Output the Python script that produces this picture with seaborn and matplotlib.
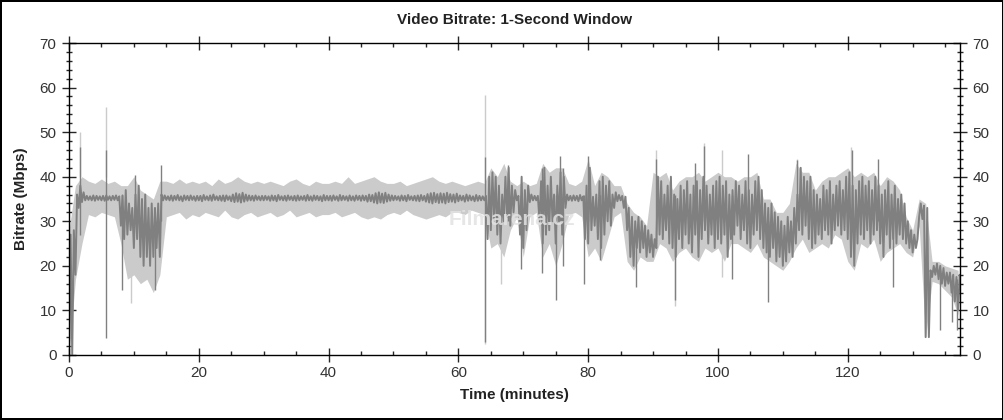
import numpy as np
import pandas as pd
import matplotlib.pyplot as plt
from matplotlib.ticker import MultipleLocator
import seaborn as sns

# dark trace (1-second bitrate), min / max per half minute, 0 .. 137 min
dark_lo = [0, 0, 18, 33, 34.3, 34.7, 34.8, 34.7, 34.6, 34.8,
           34.7, 34.6, 34.8, 34.7, 34.8, 34.7, 29, 26, 27, 28,
           24, 26, 22, 20, 22, 20, 22, 24, 22, 34.7,
           34.8, 34.7, 34.6, 34.8, 34.7, 34.5, 34.8, 34.7, 34.8, 34.6,
           34.7, 34.5, 34.8, 34.7, 34.6, 34.8, 34.7, 34.6, 34.5, 34.8,
           34.5, 34.3, 34.4, 34.2, 34.4, 34.6, 34.7, 34.6, 34.8, 34.7,
           34.7, 34.8, 34.6, 34.7, 34.5, 34.8, 34.7, 34.6, 34.8, 34.7,
           34.6, 34.7, 34.8, 34.6, 34.7, 34.6, 34.8, 34.7, 34.5, 34.7,
           34.7, 34.6, 34.8, 34.6, 34.7, 34.8, 34.6, 34.7, 34.6, 34.8,
           34.6, 34.7, 34.4, 34.5, 34.2, 34.0, 34.2, 34.1, 34.4, 34.6,
           34.7, 34.8, 34.6, 34.7, 34.5, 34.8, 34.7, 34.6, 34.5, 34.7,
           34.4, 34.2, 34.0, 34.3, 34.1, 34.2, 34.0, 34.3, 34.4, 34.2,
           34.5, 34.7, 34.4, 34.6, 34.7, 34.5, 34.6, 34.7, 34.7, 26,
           28, 30, 27, 25, 30, 31, 29, 32, 34.7, 27,
           24, 28, 34.3, 34.7, 34.7, 30, 25, 27, 28, 30,
           25, 30, 27, 33, 34.7, 34.6, 34.7, 34.5, 34.7, 26,
           25, 28, 29, 26, 24, 27, 30, 29, 33, 34.5,
           34.7, 33, 28, 22, 20, 24, 23, 24, 22, 23,
           22, 24, 27, 26, 28, 25, 24, 22, 26, 24,
           27, 25, 23, 27, 22, 26, 28, 25, 27, 24,
           26, 25, 27, 22, 26, 27, 29, 26, 28, 25,
           24, 27, 28, 26, 24, 23, 22, 24, 21, 22,
           20, 21, 23, 22, 25, 28, 27, 29, 26, 24,
           25, 27, 26, 28, 27, 25, 28, 29, 27, 28,
           26, 22, 20, 25, 27, 26, 28, 25, 27, 28,
           25, 22, 27, 24, 26, 25, 27, 26, 25, 24,
           23, 24, 31, 30.5, 4, 4, 17.5, 18, 17, 16,
           15.5, 16, 14, 12, 10]
dark_hi = [27, 28, 36, 38, 36.5, 35.7, 35.6, 35.8, 35.7, 35.6,
           35.7, 35.8, 35.6, 35.7, 35.8, 35.6, 35.8, 37, 34, 33,
           36, 38, 35, 36, 33, 34, 33, 34, 36, 35.8,
           35.6, 35.8, 35.7, 35.9, 35.6, 35.8, 35.7, 35.8, 35.6, 35.7,
           35.7, 35.9, 35.6, 35.8, 36.0, 35.6, 35.7, 35.8, 35.8, 35.6,
           36.0, 36.3, 36.1, 36.4, 36.0, 35.8, 35.7, 35.8, 35.6, 35.7,
           35.7, 35.6, 35.8, 35.7, 35.9, 35.6, 35.7, 35.8, 35.6, 35.7,
           35.8, 35.6, 35.7, 35.9, 35.6, 35.8, 35.7, 35.6, 35.9, 35.7,
           35.7, 35.8, 35.6, 35.9, 35.7, 35.6, 35.8, 35.6, 35.8, 35.7,
           35.8, 35.7, 36.0, 35.9, 36.3, 36.5, 36.2, 36.4, 36.0, 35.8,
           35.7, 35.6, 35.8, 35.7, 35.9, 35.6, 35.7, 35.8, 35.9, 35.7,
           36.1, 36.3, 36.4, 36.1, 36.3, 36.2, 36.4, 36.1, 36.0, 36.2,
           35.8, 35.7, 36.0, 35.8, 35.6, 35.9, 35.7, 35.6, 35.7, 40,
           41, 40, 38, 36, 40, 42, 38, 37, 35.7, 40,
           37, 38, 36, 35.7, 35.7, 39, 42, 38, 40, 36,
           38, 41, 40, 36, 35.7, 35.8, 35.7, 35.9, 35.6, 38,
           42, 35.5, 36, 39, 40, 38, 39, 36, 36.5, 35.9,
           35.7, 35.5, 33, 31, 30, 31, 30, 29, 28, 27,
           26, 40, 39, 36, 38, 40, 36, 35, 38, 37,
           39, 36, 38, 39, 37, 40, 38, 36, 38, 39,
           40, 38, 39, 36, 37, 39, 38, 36, 39, 37,
           36, 39, 40, 37, 34, 33, 34, 32, 31, 30,
           29, 31, 30, 33, 36, 42, 40, 39, 40, 37,
           36, 35, 38, 37, 39, 36, 38, 39, 37, 40,
           41, 38, 37, 39, 40, 38, 39, 37, 40, 38,
           36, 37, 39, 36, 38, 35, 36, 34, 30, 28,
           27, 26, 34, 33.5, 33, 19, 20, 20.5, 20, 19.5,
           18.5, 18.5, 18, 17.5, 18]

# light trace (envelope), min / max per minute, 0 .. 137 min
light_lo = [0, 17, 25, 31.5, 31, 32, 31.5, 31, 25, 17,
            18, 16, 17, 14, 18, 31, 31.5, 32, 30.5, 31.5,
            31, 32, 31.5, 31, 32.5, 31, 30.5, 31.5, 32, 31,
            31.5, 32, 31, 31.5, 32.5, 31, 31.5, 32, 31, 31.5,
            31.5, 32, 31, 31.5, 32, 31, 30.5, 31, 30.5, 31.5,
            32, 31.5, 32.5, 31.5, 31, 30.5, 31, 31.5, 31, 32,
            32, 31.5, 32.5, 32, 31.5, 24, 25, 22, 28, 31,
            22, 31, 32, 22, 25, 20, 25, 31.5, 32, 31,
            22, 24, 21, 26, 31, 32, 21, 19, 22, 21,
            21, 25, 24, 21, 23, 24, 22, 21, 24, 23,
            24, 21, 25, 25, 24, 23, 25, 22, 21, 20,
            19, 21, 24, 26, 23, 24, 25, 24, 27, 26,
            21, 19, 25, 24, 26, 21, 23, 24, 25, 23,
            22, 29, 4, 16.5, 16, 14.5, 13, 9]
light_hi = [28, 38, 40, 39, 38.5, 39.5, 38.5, 39, 38, 38,
            40, 37, 36, 35, 39, 39, 38.5, 39.5, 38.5, 39,
            38.5, 39, 38, 39.5, 38.5, 39, 40, 39, 38.5, 39,
            38.5, 39, 38.5, 38, 39, 39.5, 38.5, 38, 39, 38.5,
            38.5, 39, 38.5, 40, 38.5, 39, 39.5, 40, 39, 38.5,
            38.5, 39, 38, 38.5, 39, 39.5, 40, 39, 38.5, 39,
            38.5, 38, 38.5, 39, 38.5, 42, 40, 43, 39, 38,
            39, 38, 38.5, 43, 41, 42, 42, 38.5, 38, 39,
            44, 38, 41, 40, 38, 38, 34, 32, 31, 29,
            41, 40, 41, 37, 39, 40, 40, 41, 39, 40,
            41, 40, 40, 39, 40, 40, 41, 35, 35, 32,
            32, 34, 43, 41, 41, 37, 39, 40, 40, 41,
            42, 40, 41, 40, 41, 38, 40, 39, 37, 31,
            28, 35, 34, 21, 21, 20, 19.5, 19]

# single-second spikes
dark_spike_t = [1.75, 5.75, 8.1, 10.1, 13.3, 14.2, 64.1, 67.6, 69.6, 72.9,
                75.1, 75.6, 76.1, 79.4, 80.0, 81.8, 87.4, 90.5, 93.4, 96.4,
                97.9, 102.2, 104.6, 107.7, 112.2, 120.6, 124.6, 127.0, 134.2, 136.0,
                136.9]
dark_spike_lo = [27, 3.8, 14.6, 30, 14.6, 30, 3, 30, 19.4, 18.5,
                 12.3, 30, 20, 16, 30, 21.3, 15.3, 24, 12.3, 30,
                 30, 17, 30, 12, 30, 30, 30, 15.3, 5.6, 7.4,
                 5.6]
dark_spike_hi = [46.7, 46, 36, 40.4, 30, 42.6, 44.5, 42.7, 36, 42,
                 36, 44.6, 42, 36, 44.6, 36, 28, 44, 36, 43,
                 47, 36, 45, 30, 43.7, 46, 44, 33, 19, 18,
                 17]
light_spike_t = [1.75, 5.75, 9.6, 64.1, 66.6, 90.5, 93.4, 97.9, 100.6, 112.2, 120.5]
light_spike_lo = [40, 40, 11.7, 2.5, 16, 40, 11, 40, 17.6, 40, 40]
light_spike_hi = [50, 55.7, 25, 58.3, 28, 46, 22, 47.5, 46, 44, 46.7]

dark_t = np.arange(len(dark_lo)) * 0.5
light_t = np.arange(len(light_lo)) * 1.0

# the 1-second trace swings between its low and high in every half minute
zig = pd.DataFrame({'t': np.column_stack([dark_t, dark_t + 0.25]).ravel(),
                    'v': np.column_stack([dark_lo, dark_hi]).ravel()})
light_df = pd.DataFrame({'t': np.concatenate([light_t, light_t]),
                         'v': light_lo + light_hi})

sns.set_style('ticks')
plt.rcParams['font.family'] = ['Liberation Sans', 'DejaVu Sans']

light = '#cbcbcb'
dark = '#808080'

fig = plt.figure(figsize=(10.04, 4.2), dpi=100, edgecolor='black', linewidth=1.5)
ax = fig.add_axes([0.0687, 0.1548, 0.8875, 0.7428])

sns.lineplot(data=light_df, x='t', y='v', estimator='mean', errorbar=('pi', 100),
             color=light, lw=0, err_kws={'alpha': 1, 'linewidth': 0}, ax=ax)
ax.vlines(light_spike_t, light_spike_lo, light_spike_hi, color=light, lw=1)
sns.lineplot(data=zig, x='t', y='v', estimator=None, sort=False,
             color=dark, lw=1.4, ax=ax)
ax.vlines(dark_spike_t, dark_spike_lo, dark_spike_hi, color=dark, lw=1)

ax.text(0.497, 0.433, 'Filmarena.cz', transform=ax.transAxes, ha='center', va='center',
        fontsize=15, fontweight='bold', color='#e2e2e2', alpha=0.85, zorder=5)

ax.set_xlim(0, 137.3)
ax.set_ylim(0, 70)
ax.xaxis.set_major_locator(MultipleLocator(20))
ax.xaxis.set_minor_locator(MultipleLocator(5))
ax.yaxis.set_major_locator(MultipleLocator(10))
ax.yaxis.set_minor_locator(MultipleLocator(2))

for s in ax.spines.values():
    s.set_color('black')
    s.set_linewidth(1)

ax.tick_params(axis='y', which='major', direction='inout', length=10, width=1,
               left=True, right=True, labelleft=True, labelright=True,
               labelsize=11, labelcolor='#333333', pad=4)
ax.tick_params(axis='y', which='minor', direction='inout', length=5, width=1,
               left=True, right=True)
ax.tick_params(axis='x', which='major', direction='inout', length=10, width=1,
               top=True, labelsize=11, labelcolor='#333333', pad=3)
ax.tick_params(axis='x', which='minor', direction='in', length=3, width=1, top=True)

ax.set_xlabel('Time (minutes)', fontsize=11, fontweight='bold', color='#222222', labelpad=6)
ax.set_ylabel('Bitrate (Mbps)', fontsize=11, fontweight='bold', color='#222222', labelpad=8)
ax.set_title('Video Bitrate: 1-Second Window', fontsize=11, fontweight='bold',
             color='#222222', pad=14)

fig.savefig('out.png', dpi=100, edgecolor=fig.get_edgecolor())
